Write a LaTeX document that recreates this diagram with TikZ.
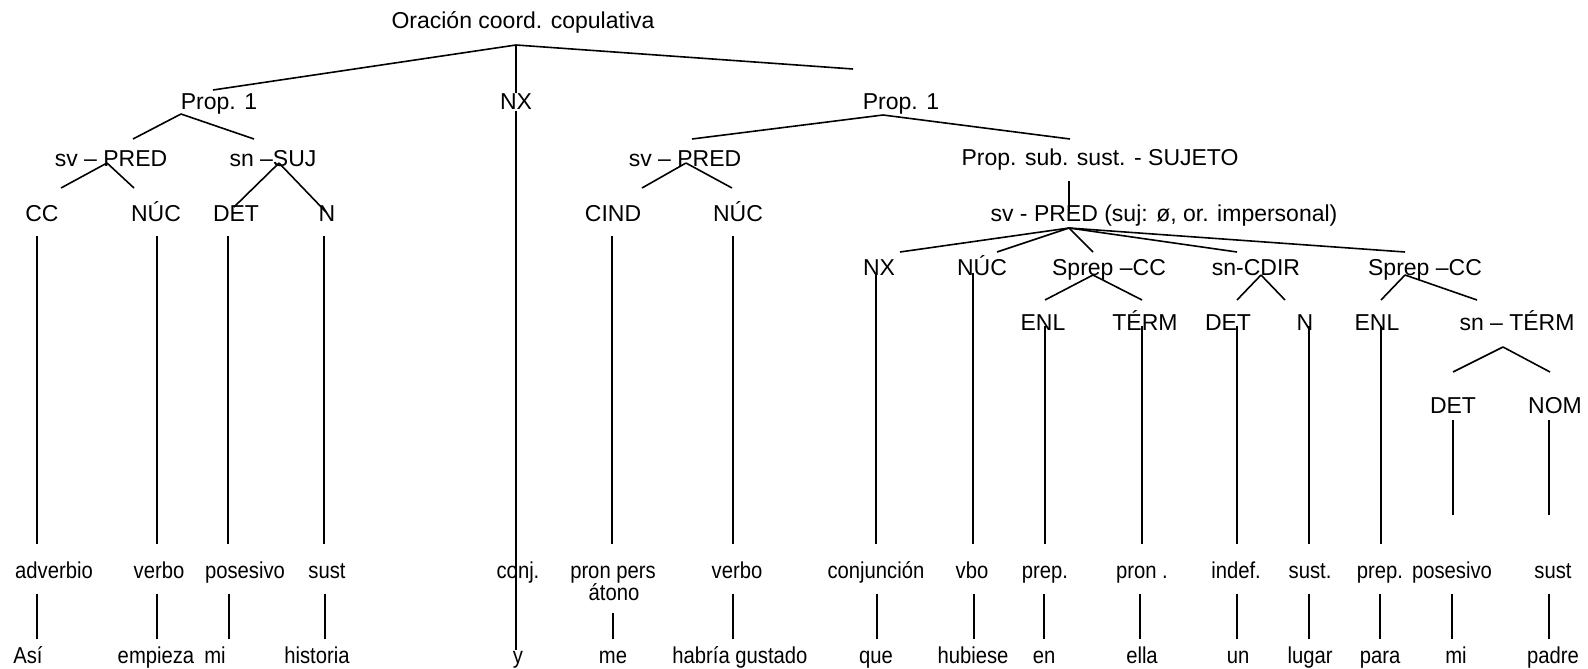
\documentclass[tikz,border=0pt]{standalone}
\usepackage{fontspec}
\setmainfont{Liberation Sans}
\newfontfamily\narrowsans{Liberation Sans}[FakeStretch = 0.88]
\usetikzlibrary{positioning}
\tikzset{lbl/.style = {font = \fontsize{23}{25}\selectfont, inner sep = 0, anchor = base},
         wrd/.style = {lbl, font = \narrowsans\fontsize{23}{25}\selectfont}}

\begin{document}
\begin{tikzpicture}[x = 1pt, y = -1pt, line width = 1.6pt]
  \useasboundingbox (0, 0) rectangle (1588, 669);
  % upper levels
  \node [lbl] (ora) at (523, 29) {Oración coord. copulativa};
  \node [lbl] (p1l) at (219, 110) {Prop. 1};
  \node [lbl] (nx) at (516, 110) {NX};
  \node [lbl] (p1r) at (901, 110) {Prop. 1};
  \node [lbl] (svl) at (111, 166) {sv – PRED};
  \node [lbl] (snl) at (273, 166) {sn –SUJ};
  \node [lbl] (svr) at (685, 166) {sv – PRED};
  \node [lbl] (psub) at (1100, 165) {Prop. sub. sust. - SUJETO};
  \node [lbl] (cc) at (42, 221) {CC};
  \node [lbl] (nucl) at (156, 221) {NÚC};
  \node [lbl] (detl) at (236, 221) {DET};
  \node [lbl] (nl) at (327, 221) {N};
  \node [lbl] (cind) at (613, 221) {CIND};
  \node [lbl] (nucr) at (738, 221) {NÚC};
  \node [lbl] (svs) at (1164, 221) {sv - PRED (suj: ø, or. impersonal)};
  \node [lbl] (nxs) at (879, 275) {NX};
  \node [lbl] (nucs) at (982, 275) {NÚC};
  \node [lbl] (spa) at (1109, 275) {Sprep –CC};
  \node [lbl] (sncd) at (1256, 275) {sn-CDIR};
  \node [lbl] (spb) at (1425, 275) {Sprep –CC};
  \node [lbl] (enla) at (1043, 330) {ENL};
  \node [lbl] (term) at (1145, 330) {TÉRM};
  \node [lbl] (detc) at (1228, 330) {DET};
  \node [lbl] (nc) at (1305, 330) {N};
  \node [lbl] (enlb) at (1377, 330) {ENL};
  \node [lbl] (snt) at (1517, 330) {sn – TÉRM};
  \node [lbl] (dett) at (1453, 413) {DET};
  \node [lbl] (nom) at (1555, 413) {NOM};
  % word classes
  \foreach \n/\x/\t in {adv/54/adverbio, vbl/159/verbo, posl/245/posesivo, susl/327/sust,
      conj/518/conj., ppe/613/pron pers, vbr/737/verbo, cjn/876/conjunción, vbo/972/vbo,
      prpa/1045/prep., pron/1142/pron ., indf/1236/indef., susc/1310/sust., prpb/1380/prep.,
      posr/1452/posesivo, susr/1553/sust}
    \node [wrd] (\n) at (\x, 578) {\t};
  \node [wrd] (ato) at (614, 600) {átono};
  % words
  \foreach \n/\x/\t in {asi/28/Así, emp/156/empieza, mil/215/mi, hist/317/historia,
      yy/518/y, me/613/me, hab/740/habría gustado, que/876/que, hub/973/hubiese,
      en/1044/en, ella/1142/ella, un/1238/un, lug/1310/lugar, para/1380/para,
      mir/1456/mi, pad/1553/padre}
    \node [wrd] (\n) at (\x, 663) {\t};

  % branch points
  \coordinate (ora-a) at (516, 45);
  \coordinate (p1l-e) at (213, 90);
  \coordinate (p1r-e) at (853, 69);
  \coordinate (p1l-a) at (181, 114);
  \coordinate (p1l-l) at (133, 139);
  \coordinate (p1l-r) at (254, 139);
  \coordinate (svl-a) at (107, 163);
  \coordinate (svl-l) at (61, 188);
  \coordinate (svl-r) at (134, 188);
  \coordinate (snl-a) at (279, 163);
  \coordinate (snl-l) at (234, 207);
  \coordinate (snl-r) at (326, 212);
  \coordinate (p1r-a) at (883, 115);
  \coordinate (p1r-l) at (692, 139);
  \coordinate (p1r-r) at (1070, 139);
  \coordinate (svr-a) at (686, 163);
  \coordinate (svr-l) at (642, 188);
  \coordinate (svr-r) at (732, 188);
  \coordinate (psub-b) at (1069, 181);
  \coordinate (svs-t) at (1069, 211);
  \coordinate (svs-a) at (1069, 228);
  \coordinate (spa-a) at (1093, 275);
  \coordinate (sncd-a) at (1261, 275);
  \coordinate (spb-a) at (1405, 275);
  \coordinate (snt-a) at (1503, 347);
  \foreach \n/\x in {nxs/900, nucs/997, spa/1093, sncd/1237, spb/1405}
    \coordinate (\n-e) at (\x, 252);
  \foreach \n/\x in {enla/1045, term/1142, detc/1237, nc/1285, enlb/1381, snt/1477}
    \coordinate (\n-e) at (\x, 300);
  \coordinate (dett-e) at (1453, 372);
  \coordinate (nom-e) at (1550, 372);

  % columns
  \foreach \n/\x/\y in {cc/37/236, nucl/157/236, detl/228/236, nl/324/236,
      cind/612/236, nucr/733/236, nxs/876/273, nucs/973/273, enla/1045/326,
      term/1142/326, detc/1237/326, nc/1309/326, enlb/1381/326} {
    \coordinate (\n-t) at (\x, \y);
    \coordinate (\n-b) at (\x, 544);
  }
  \coordinate (dett-t) at (1453, 420);
  \coordinate (dett-b) at (1453, 515);
  \coordinate (nom-t) at (1549, 420);
  \coordinate (nom-b) at (1549, 515);
  \foreach \n/\x in {asi/37, emp/157, mil/229, hist/325, me/613, hab/733, que/877,
      hub/974, en/1044, ella/1140, un/1237, lug/1309, para/1380, mir/1452, pad/1549} {
    \coordinate (\n-t) at (\x, 594);
    \coordinate (\n-b) at (\x, 639);
  }
  \coordinate (me-t) at (613, 613);

  % branches
  \draw (ora-a) -- (p1l-e);
  \draw (ora-a) -- (p1r-e);
  \draw (ora-a) -- (nx.north);
  \draw (nx.south) -- (nx.south |- yy.north);
  \draw (p1l-a) -- (p1l-l);
  \draw (p1l-a) -- (p1l-r);
  \draw (svl-a) -- (svl-l);
  \draw (svl-a) -- (svl-r);
  \draw (snl-a) -- (snl-l);
  \draw (snl-a) -- (snl-r);
  \draw (p1r-a) -- (p1r-l);
  \draw (p1r-a) -- (p1r-r);
  \draw (svr-a) -- (svr-l);
  \draw (svr-a) -- (svr-r);
  \draw (psub-b) -- (svs-t);
  \foreach \n in {nxs, nucs, spa, sncd, spb}
    \draw (svs-a) -- (\n-e);
  \draw (spa-a) -- (enla-e);
  \draw (spa-a) -- (term-e);
  \draw (sncd-a) -- (detc-e);
  \draw (sncd-a) -- (nc-e);
  \draw (spb-a) -- (enlb-e);
  \draw (spb-a) -- (snt-e);
  \draw (snt-a) -- (dett-e);
  \draw (snt-a) -- (nom-e);
  % vertical lines
  \foreach \n in {cc, nucl, detl, nl, cind, nucr, nxs, nucs, enla, term, detc, nc, enlb,
      dett, nom, asi, emp, mil, hist, me, hab, que, hub, en, ella, un, lug, para, mir, pad}
    \draw (\n-t) -- (\n-b);
\end{tikzpicture}
\end{document}
